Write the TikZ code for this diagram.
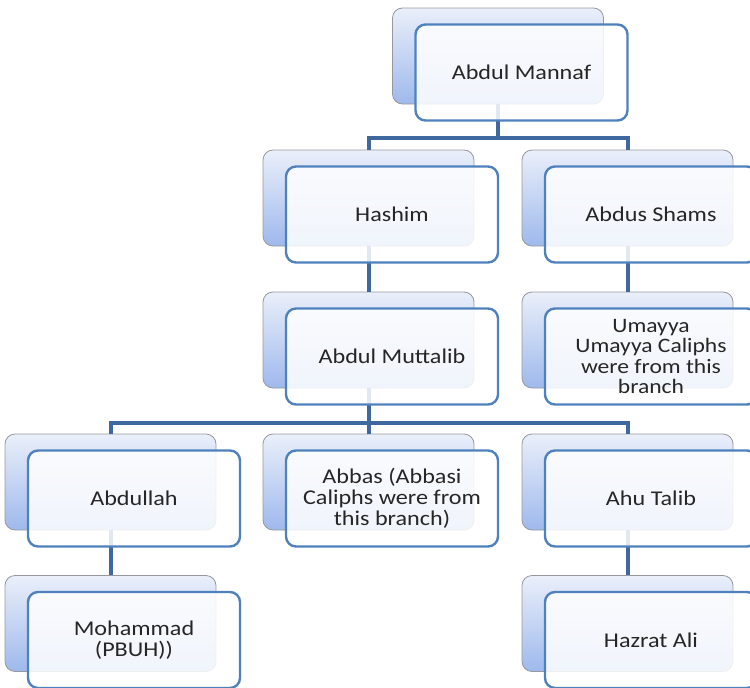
\documentclass[tikz,border=0pt]{standalone}
\usepackage{fontspec}
\setmainfont{Carlito}[FakeStretch=1.15]
\definecolor{linkblue}{RGB}{62,104,158}
\definecolor{frameblue}{RGB}{79,129,189}
\definecolor{backtop}{RGB}{234,239,250}
\definecolor{backbot}{RGB}{158,185,236}
\definecolor{backedge}{RGB}{150,152,158}
\begin{document}
\begin{tikzpicture}[x=1pt, y=-1pt,
  back/.style={rectangle, rounded corners=10pt, minimum width=211pt, minimum height=96pt,
    draw=backedge, line width=0.8pt, top color=backtop, bottom color=backbot},
  front/.style={rectangle, rounded corners=10pt, minimum width=212pt, minimum height=96pt,
    draw=frameblue, line width=2.4pt, fill=white, fill opacity=0.85, text opacity=1,
    align=center, text=black!85},
  link/.style={draw=linkblue, line width=4pt}]
\useasboundingbox (0,0) rectangle (750,688);
\foreach \n/\x/\y in {mannaf/521.5/72.5, hashim/392/214.5, shams/651/214.5, muttalib/392/356.5,
    umayya/651/356.5, abdullah/134/498.5, abbas/392/498.5, talib/651/498.5,
    mohammad/134/640, ali/651/640}
  \node[back] (\n-b) at (\x-23.5,\y-16.5) {};
\coordinate (barA) at (0,138);
\coordinate (barB) at (0,423);
\draw[link] (mannaf-b.south) -- (mannaf-b.south |- barA) -| (hashim-b.north);
\draw[link] (mannaf-b.south |- barA) -| (shams-b.north);
\draw[link] (hashim-b.south) -- (muttalib-b.north);
\draw[link] (shams-b.south) -- (umayya-b.north);
\draw[link] (muttalib-b.south) -- (muttalib-b.south |- barB) -| (abdullah-b.north);
\draw[link] (muttalib-b.south |- barB) -| (talib-b.north);
\draw[link] (muttalib-b.south |- barB) -- (abbas-b.north);
\draw[link] (abdullah-b.south) -- (mohammad-b.north);
\draw[link] (talib-b.south) -- (ali-b.north);
\foreach \n/\x/\y/\f/\t in {mannaf/521.5/72.5/21/{Abdul Mannaf}, hashim/392/214.5/21/Hashim,
    shams/651/214.5/21/{Abdus Shams}, muttalib/392/356.5/21/{Abdul Muttalib},
    umayya/651/356.5/20.5/{Umayya\\Umayya Caliphs\\were from this\\branch},
    abdullah/134/498.5/21/Abdullah, abbas/392/498.5/21/{Abbas (Abbasi\\Caliphs were from\\this branch)},
    talib/651/498.5/21/{Ahu Talib}, mohammad/134/640/21/{Mohammad\\(PBUH))},
    ali/651/640/21/{Hazrat Ali}}
  \node[front, font=\fontsize{\f}{\f}\selectfont] (\n) at (\x,\y) {\t};
\end{tikzpicture}
\end{document}
